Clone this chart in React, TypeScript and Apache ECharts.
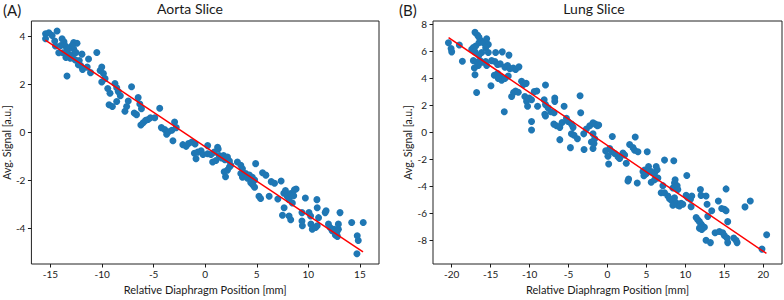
import React, { useEffect, useRef } from "react";
import * as echarts from "echarts";

// ---------- data ----------
const aortaPoints: number[][] = [
  [-15.48, 4.09], [-15.16, 4.13], [-14.84, 4.02], [-14.36, 4.2], [-15.48, 3.88], [-14.59, 3.79],
  [-14.52, 3.58], [-13.88, 3.88], [-13.69, 3.75], [-13.56, 3.58], [-13.4, 3.42], [-13.4, 2.33],
  [-13.24, 3.24], [-13.08, 3.07], [-12.85, 3.2], [-12.75, 3.45], [-12.53, 3.31], [-12.75, 3.72],
  [-12.43, 3.69], [-11.95, 3.24], [-12.21, 2.97], [-12.08, 2.77], [-11.89, 2.6], [-11.31, 3.04],
  [-11.44, 2.7], [-11.12, 2.47], [-10.51, 3.31], [-10.19, 2.56], [-10.03, 2.7], [-9.87, 2.43],
  [-9.71, 2.22], [-10.03, 2.08], [-9.45, 1.81], [-9.23, 1.61], [-8.75, 2.02], [-8.58, 1.84],
  [-8.43, 1.68], [-8.23, 1.51], [-9.32, 1.13], [-9.0, 1.06], [-8.58, 1.27], [-7.78, 0.86],
  [-7.62, 1.06], [-7.46, 1.29], [-7.14, 1.88], [-6.88, 0.79], [-6.66, 0.72], [-6.5, 1.43],
  [-6.34, 1.16], [-6.18, 0.97], [-6.24, 0.29], [-6.02, 0.38], [-5.79, 0.48], [-5.54, 0.52],
  [-5.31, 0.59], [-4.89, 0.59], [-4.41, 0.99], [-4.25, 0.18], [-3.93, 0.1], [-3.74, -0.1],
  [-3.55, 0.01], [-3.23, 0.07], [-2.97, 0.41], [-2.81, 0.18], [-3.13, -0.37], [-2.17, -0.53],
  [-1.85, -0.6], [-1.62, -0.48], [-1.3, -0.42], [-0.98, -0.5], [0.24, -0.57], [1.2, -0.64],
  [-1.05, -0.89], [-0.72, -0.84], [-0.4, -0.78], [-0.89, -1.12], [-0.21, -0.94], [0.24, -0.91],
  [0.56, -0.94], [0.88, -0.84], [1.26, -0.71], [1.36, -0.98], [1.58, -1.08], [0.72, -1.25],
  [1.04, -1.19], [1.78, -0.98], [1.91, -1.16], [2.16, -1.05], [2.35, -1.21], [1.84, -1.66],
  [1.97, -1.87], [2.16, -1.59], [2.35, -1.46], [2.48, -1.39], [3.12, -1.25], [3.45, -1.39],
  [3.61, -1.53], [3.45, -1.73], [3.61, -1.89], [3.93, -1.73], [4.09, -1.93], [4.28, -1.8],
  [4.57, -1.89], [4.79, -2.0], [4.89, -1.32], [4.41, -2.11], [4.63, -2.21], [4.79, -2.3],
  [5.21, -2.68], [5.37, -2.77], [5.56, -1.7], [5.88, -1.8], [6.2, -2.68], [6.4, -2.07],
  [6.72, -2.14], [7.04, -2.79], [7.36, -2.04], [7.49, -3.47], [7.65, -3.16], [7.62, -2.55],
  [7.78, -2.44], [7.94, -2.68], [8.13, -2.82], [8.29, -2.57], [8.45, -2.96], [8.58, -2.66],
  [8.65, -2.41], [8.81, -2.38], [8.13, -3.5], [8.29, -3.66], [9.38, -3.36], [9.42, -3.91],
  [9.38, -3.71], [9.71, -2.75], [10.06, -3.36], [10.22, -3.5], [10.25, -3.84], [10.38, -4.05],
  [10.7, -3.98], [10.86, -3.91], [10.99, -3.57], [10.86, -3.16], [10.83, -2.82], [11.63, -3.36],
  [11.72, -3.28], [11.95, -3.84], [12.11, -3.98], [12.3, -4.11], [12.5, -4.05], [12.62, -4.29],
  [12.78, -4.16], [12.91, -3.84], [12.91, -4.05], [12.82, -4.35], [13.07, -3.36], [14.2, -3.77],
  [14.74, -4.32], [14.84, -4.52], [14.71, -5.07], [15.32, -3.77],
  [-14.0, 3.6], [-13.8, 3.3], [-13.2, 3.5], [-12.6, 3.0], [-12.9, 3.6], [-14.2, 3.3],
  [-13.5, 3.1], [-12.3, 2.8],
];

const lungPoints: number[][] = [
  [-20.42, 6.61], [-20.08, 6.18], [-20.0, 5.94], [-19.02, 6.44], [-18.63, 5.24], [-17.01, 7.38],
  [-16.67, 7.16], [-16.5, 7.02], [-17.43, 6.13], [-17.22, 6.25], [-16.92, 6.37], [-16.5, 6.61],
  [-16.15, 6.73], [-15.94, 6.61], [-15.51, 6.9], [-15.3, 6.49], [-15.64, 6.25], [-15.3, 5.89],
  [-16.15, 5.89], [-16.5, 5.7], [-17.01, 5.94], [-17.22, 5.29], [-16.8, 5.17], [-16.37, 5.29],
  [-16.07, 5.17], [-15.64, 5.22], [-15.51, 4.93], [-16.58, 4.93], [-17.09, 4.74], [-17.01, 4.25],
  [-16.8, 2.93], [-14.96, 3.44], [-14.87, 5.29], [-14.45, 5.22], [-14.11, 5.0], [-13.77, 5.05],
  [-14.36, 5.89], [-13.51, 5.94], [-14.53, 4.21], [-14.11, 4.33], [-13.81, 4.09], [-13.59, 3.85],
  [-14.02, 3.97], [-12.65, 5.7], [-13.17, 4.81], [-12.83, 4.93], [-12.53, 4.69], [-12.1, 4.74],
  [-11.8, 4.64], [-11.37, 4.83], [-13.25, 1.51], [-13.17, 3.97], [-12.74, 4.16], [-12.31, 2.64],
  [-12.06, 2.93], [-11.8, 3.05], [-11.46, 2.96], [-11.03, 3.77], [-10.78, 3.53], [-10.44, 3.61],
  [-10.61, 2.64], [-10.39, 2.28], [-10.26, 1.92], [-10.05, 2.52], [-9.75, 2.4], [-9.41, 3.0],
  [-9.07, 3.05], [-9.75, 0.79], [-9.75, 0.17], [-8.98, 1.92], [-7.96, 3.49], [-8.13, 2.4],
  [-7.96, 2.04], [-8.05, 1.32], [-7.96, 1.2], [-7.62, 1.8], [-7.28, 1.51], [-6.85, 1.44],
  [-6.77, 2.52], [-6.77, 2.28], [-5.57, 1.92], [-6.89, 0.6], [-6.55, 0.48], [-6.12, 0.36],
  [-5.83, 0.72], [-5.27, 1.03], [-5.06, 0.79], [-4.63, 0.6], [-4.42, 0.36], [-6.12, -0.55],
  [-4.63, -0.12], [-4.29, -0.22], [-3.52, 2.69], [-3.44, 1.44], [-3.86, -0.48], [-3.05, -0.12],
  [-2.71, 0.24], [-2.28, 0.48], [-1.86, 0.7], [-1.56, 0.6], [-1.3, 0.48], [-1.13, 0.53],
  [-1.86, -0.12], [-1.64, -0.48], [-1.73, -0.84], [-2.07, -0.72], [0.62, -0.31], [2.84, -0.91],
  [3.56, -0.36],
  [-4.76, -1.14], [-3.01, -1.28], [-1.86, -1.21], [-0.23, -1.38], [0.06, -1.77], [0.28, -1.21],
  [0.58, -1.45], [0.92, -1.57], [1.34, -1.82], [0.15, -2.35], [1.56, -1.94], [1.98, -1.53],
  [2.2, -1.69], [2.41, -2.3], [2.71, -3.46], [2.62, -3.61], [3.27, -1.14], [3.48, -1.33],
  [3.91, -1.45], [3.82, -3.75], [4.55, -2.91], [4.76, -2.79], [4.67, -3.22], [4.97, -3.07],
  [5.27, -2.54], [5.61, -2.91], [6.04, -3.03], [6.25, -2.54], [6.38, -2.78], [5.1, -1.45],
  [5.61, -3.7], [6.04, -3.51], [6.47, -3.39], [6.89, -4.48], [7.32, -4.48], [7.75, -4.72],
  [7.96, -4.92], [8.17, -5.01], [8.6, -4.84], [8.81, -5.21], [8.39, -5.4], [9.03, -5.4],
  [9.24, -5.45], [9.45, -5.25], [9.67, -5.33], [7.32, -2.06], [7.11, -3.95], [8.39, -4.12],
  [8.6, -3.75], [8.68, -3.51], [8.94, -3.95], [9.03, -4.24], [8.51, -2.11], [10.18, -3.2],
  [10.09, -4.67], [10.31, -4.84], [10.65, -4.96], [10.82, -4.72], [10.73, -5.5], [11.38, -6.3],
  [11.59, -6.47], [11.8, -6.61], [12.01, -6.78], [12.23, -6.95], [12.44, -7.02], [11.8, -7.09],
  [12.1, -7.19], [11.93, -4.24], [12.01, -4.67], [12.65, -4.72], [12.78, -5.33], [12.87, -6.22],
  [12.65, -7.99], [13.21, -8.16], [13.38, -5.81], [13.81, -7.43], [14.36, -7.34], [14.79, -7.43],
  [15.0, -7.63], [15.34, -7.82], [15.43, -8.16], [14.23, -5.08], [14.66, -5.64], [15.0, -5.69],
  [15.22, -5.81], [15.22, -4.19], [15.43, -6.61], [16.2, -7.82], [16.5, -7.99], [16.63, -8.16],
  [17.65, -5.52], [18.33, -5.08], [19.83, -8.64], [20.43, -7.58],
];

const aortaFit: number[][] = [[-15.5, 3.82], [15.3, -5.0]];
const lungFit: number[][] = [[-20.4, 7.0], [20.4, -8.96]];

const aortaXTicks = [-15, -10, -5, 0, 5, 10, 15];
const aortaYTicks = [-4, -2, 0, 2, 4];
const lungXTicks = [-20, -15, -10, -5, 0, 5, 10, 15, 20];
const lungYTicks = [-8, -6, -4, -2, 0, 2, 4, 6, 8];

const panelTitles = ["Aorta Slice", "Lung Slice"];
const panelTags = ["(A)", "(B)"];
const xAxisName = "Relative Diaphragm Position [mm]";
const yAxisName = "Avg. Signal [a.u.]";

// ---------- styling ----------
const FONT = "Lato";
const INK = "#1a1a1a";
const DOT = "#1f77b4";
const FIT = "#ff0000";

function xAxisCfg(gridIndex: number, min: number, max: number, ticks: number[]) {
  return {
    type: "value",
    gridIndex,
    position: "bottom",
    min,
    max,
    name: xAxisName,
    nameLocation: "middle",
    nameGap: 20,
    nameTextStyle: { fontSize: 11, color: INK, fontFamily: FONT },
    axisLine: { show: false, onZero: false },
    splitLine: { show: false },
    axisTick: { show: true, inside: false, length: 3.5, customValues: ticks, lineStyle: { color: INK, width: 1 } },
    axisLabel: { customValues: ticks, fontSize: 10, color: INK, margin: 5, fontFamily: FONT },
  };
}

function yAxisCfg(gridIndex: number, min: number, max: number, ticks: number[]) {
  return {
    type: "value",
    gridIndex,
    position: "left",
    min,
    max,
    name: yAxisName,
    nameLocation: "middle",
    nameGap: 19,
    nameRotate: 90,
    nameTextStyle: { fontSize: 10.5, color: INK, fontFamily: FONT },
    axisLine: { show: false, onZero: false },
    splitLine: { show: false },
    axisTick: { show: true, inside: false, length: 3.5, customValues: ticks, lineStyle: { color: INK, width: 1 } },
    axisLabel: { customValues: ticks, fontSize: 10, color: INK, margin: 6, fontFamily: FONT },
  };
}

export default function App() {
  const ref = useRef<HTMLDivElement>(null);

  useEffect(() => {
    if (!ref.current) return;
    const chart = echarts.init(ref.current, undefined, { renderer: "svg" });
    const option: any = {
      animation: false,
      backgroundColor: "#ffffff",
      grid: [
        { left: 29, top: 21, width: 350, height: 248, show: true, borderColor: "#222", borderWidth: 1, backgroundColor: "transparent" },
        { left: 433, top: 21, width: 349, height: 248, show: true, borderColor: "#222", borderWidth: 1, backgroundColor: "transparent" },
      ],
      xAxis: [
        xAxisCfg(0, -16.85, 16.85, aortaXTicks),
        xAxisCfg(1, -22.4, 22.4, lungXTicks),
      ],
      yAxis: [
        yAxisCfg(0, -5.5, 4.62, aortaYTicks),
        yAxisCfg(1, -9.74, 8.22, lungYTicks),
      ],
      series: [
        {
          type: "scatter", xAxisIndex: 0, yAxisIndex: 0, data: aortaPoints,
          symbolSize: 7, itemStyle: { color: DOT, opacity: 1 }, z: 2,
        },
        {
          type: "line", xAxisIndex: 0, yAxisIndex: 0, data: aortaFit, showSymbol: false, symbol: "none",
          lineStyle: { color: FIT, width: 1.5 }, z: 3,
        },
        {
          type: "scatter", xAxisIndex: 1, yAxisIndex: 1, data: lungPoints,
          symbolSize: 7, itemStyle: { color: DOT, opacity: 1 }, z: 2,
        },
        {
          type: "line", xAxisIndex: 1, yAxisIndex: 1, data: lungFit, showSymbol: false, symbol: "none",
          lineStyle: { color: FIT, width: 1.5 }, z: 3,
        },
      ],
      graphic: [
        { type: "text", x: 190, y: 8, style: { text: panelTitles[0], fill: INK, font: `14px ${FONT}`, align: "center", verticalAlign: "middle" } },
        { type: "text", x: 594, y: 8, style: { text: panelTitles[1], fill: INK, font: `14px ${FONT}`, align: "center", verticalAlign: "middle" } },
        { type: "text", x: 3, y: 10, style: { text: panelTags[0], fill: INK, font: `15px ${FONT}`, align: "left", verticalAlign: "middle" } },
        { type: "text", x: 399, y: 10, style: { text: panelTags[1], fill: INK, font: `15px ${FONT}`, align: "left", verticalAlign: "middle" } },
      ],
    };
    chart.setOption(option);
    return () => chart.dispose();
  }, []);

  return (
    <div
      ref={ref}
      style={{ position: "absolute", left: 0, top: 0, width: 784, height: 300, background: "#fff" }}
    />
  );
}
